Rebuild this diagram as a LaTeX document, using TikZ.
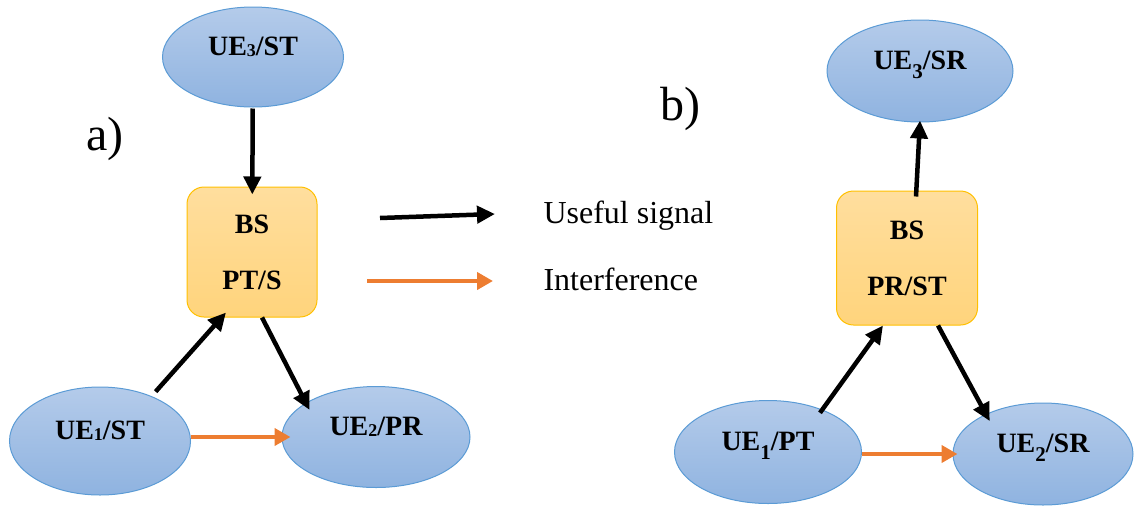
\documentclass[tikz,border=0pt]{standalone}
\usepackage{fontspec}
\setmainfont{Liberation Serif}
\usetikzlibrary{arrows.meta, positioning, shapes.geometric}
\definecolor{UeTop}{HTML}{B4CBEA}
\definecolor{UeBot}{HTML}{8FB3E0}
\definecolor{UeLine}{HTML}{5B9BD5}
\definecolor{BsTop}{HTML}{FFDE9E}
\definecolor{BsBot}{HTML}{FFD47C}
\definecolor{BsLine}{HTML}{FFC000}
\definecolor{COrange}{HTML}{ED7D31}
\newcommand{\flatsub}[1]{\raisebox{-1pt}{\fontsize{18}{18}\selectfont #1}}
\newcommand{\lowsub}[1]{\raisebox{-9pt}{\fontsize{21}{21}\selectfont #1}}

\begin{document}
\begin{tikzpicture}[x=1pt, y=-1pt,
    ue/.style={ellipse, draw=UeLine, line width=1pt, top color=UeTop, bottom color=UeBot,
        inner sep=0pt, text depth=22pt, font=\bfseries\fontsize{28}{34}\selectfont},
    bs/.style={rectangle, rounded corners=17pt, draw=BsLine, line width=1pt,
        top color=BsTop, bottom color=BsBot, inner sep=0pt, align=center,
        font=\bfseries\fontsize{28}{56}\selectfont},
    sig/.style={line width=4.5pt, -{Triangle[length=18pt, width=17pt]}},
    intf/.style={COrange, line width=4pt, -{Triangle[length=16pt, width=17pt]}},
    tag/.style={anchor=base west, font=\fontsize{48}{48}\selectfont},
    legend/.style={anchor=base west, font=\fontsize{32}{36}\selectfont}]
    \useasboundingbox (0,0) rectangle (1135,507);

    % a) uplink side
    \node[tag] (taga) at (83,150) {a)};
    \node[ue, minimum width=181pt, minimum height=100pt] (ue3a) at (253,57) {UE\flatsub{3}/ST};
    \node[bs, minimum width=130pt, minimum height=130pt] (bsa) at (252,252) {BS\\PT/S};
    \node[ue, minimum width=181pt, minimum height=108pt] (ue1a) at (100,441) {UE\flatsub{1}/ST};
    \node[ue, minimum width=188pt, minimum height=101pt] (ue2a) at (376,437) {UE\flatsub{2}/PR};

    \draw[sig, shorten <=1pt, shorten >=-8pt] (ue3a) -- (bsa);
    \draw[sig, shorten <=6pt] (ue1a.41) -- ([xshift=-26pt, yshift=5pt]bsa.south);
    \draw[sig, shorten >=-8pt] ([xshift=10pt]bsa.south) -- (ue2a.154);
    \draw[intf, shorten >=-9pt] (ue1a.east |- ue2a.west) -- (ue2a.west);

    % Legend
    \coordinate (sigtail) at (380,218);
    \coordinate (sighead) at (495,214);
    \coordinate (intftail) at (367,281);
    \coordinate (intfhead) at (493,281);
    \draw[sig] (sigtail) -- (sighead);
    \draw[intf] (intftail) -- (intfhead);
    \node[legend] (sigtext) at (540,223) {Useful signal};
    \node[legend] (intftext) at (540,290) {Interference};

    % b) downlink side
    \node[tag] (tagb) at (657,120) {b)};
    \node[ue, minimum width=186pt, minimum height=102pt] (ue3b) at (920,71) {UE\lowsub{3}/SR};
    \node[bs, minimum width=141pt, minimum height=134pt] (bsb) at (907,258) {BS\\PR/ST};
    \node[ue, minimum width=187pt, minimum height=103pt] (ue1b) at (768,452) {UE\lowsub{1}/PT};
    \node[ue, minimum width=180pt, minimum height=102pt] (ue2b) at (1043,454) {UE\lowsub{2}/SR};

    \draw[sig] ([xshift=9pt, yshift=-6pt]bsb.north) -- ([yshift=2pt]ue3b.south);
    \draw[sig, shorten <=-4pt] (ue1b.38) -- ([xshift=-24pt]bsb.south);
    \draw[sig, shorten >=-8pt] ([xshift=31pt]bsb.south) -- (ue2b.145);
    \draw[intf, shorten >=-5pt] (ue1b.east |- ue2b.west) -- (ue2b.west);

\end{tikzpicture}
\end{document}
